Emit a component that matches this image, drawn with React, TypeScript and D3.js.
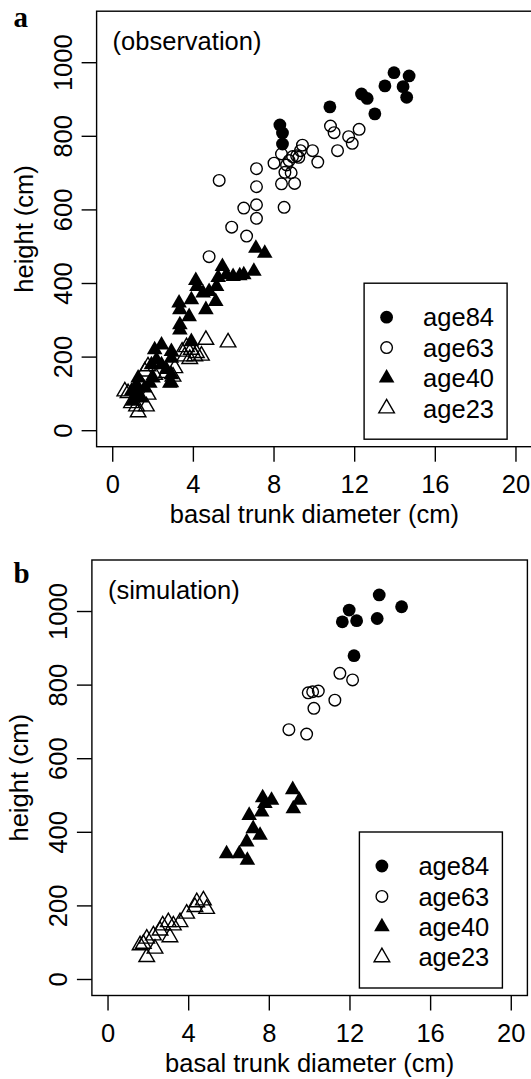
import React from 'react';
import * as d3 from 'd3';

const xTicks = [0, 4, 8, 12, 16, 20];
const yTicks = [0, 200, 400, 600, 800, 1000];
const groupNames = ['age84', 'age63', 'age40', 'age23'];

// (a) observation
const obsAge84X = [13.95, 14.7, 13.5, 14.4, 14.58, 12.34, 12.62, 10.77, 13.0, 8.29, 8.42, 8.42];
const obsAge84Y = [973, 964, 937, 935, 906, 915, 903, 880, 861, 831, 809, 779];
const obsAge63X = [10.8, 10.98, 12.22, 11.7, 11.88, 11.15, 9.41, 9.31, 9.91, 10.17, 9.12, 9.23, 8.92, 8.75, 8.37, 8.0, 8.62, 8.54, 8.85, 8.37, 9.02, 7.13, 7.13, 5.28, 6.5, 7.13, 7.13, 8.5, 5.9, 6.64, 4.78];
const obsAge63Y = [828, 810, 819, 799, 781, 761, 776, 761, 761, 730, 747, 743, 745, 734, 752, 727, 722, 702, 701, 671, 672, 712, 663, 680, 605, 614, 577, 607, 553, 529, 473];
const obsAge40X = [7.1, 7.54, 5.44, 5.64, 5.97, 6.3, 6.5, 7.0, 5.23, 4.12, 4.18, 5.15, 4.48, 4.78, 3.9, 5.11, 4.62, 3.29, 3.79, 3.33, 3.33, 3.33, 3.9, 2.42, 2.08, 2.91, 2.91, 2.17, 1.92, 2.42, 2.66, 2.91, 2.91, 2.0, 1.26, 1.18, 0.93, 1.18, 1.59, 1.42, 1.84, 1.0, 2.83];
const obsAge40Y = [496, 482, 446, 424, 419, 421, 424, 433, 416, 408, 392, 392, 374, 378, 356, 351, 329, 347, 310, 288, 274, 329, 242, 233, 220, 215, 197, 193, 179, 179, 166, 152, 130, 143, 143, 125, 107, 102, 116, 89, 129, 80, 129];
const obsAge23X = [4.62, 5.72, 3.66, 3.9, 4.15, 3.44, 3.57, 4.07, 4.4, 3.82, 3.08, 2.99, 2.66, 1.75, 1.59, 2.08, 0.76, 1.75, 0.93, 1.18, 1.67, 1.26, 1.42, 0.6];
const obsAge23Y = [247, 240, 227, 220, 211, 215, 202, 202, 204, 195, 170, 147, 157, 175, 161, 152, 102, 98, 75, 66, 66, 50, 125, 107];

// (b) simulation
const simAge84X = [13.45, 14.56, 11.96, 11.62, 12.33, 13.35, 12.2];
const simAge84Y = [1045, 1013, 1004, 972, 975, 981, 880];
const simAge63X = [11.5, 12.13, 9.93, 10.43, 10.15, 11.25, 10.21, 8.97, 9.85];
const simAge63Y = [832, 814, 779, 784, 782, 759, 737, 679, 667];
const simAge40X = [9.16, 9.49, 9.19, 7.67, 8.11, 7.78, 7.62, 7.0, 7.2, 7.54, 6.88, 5.88, 6.51, 6.91];
const simAge40Y = [516, 487, 464, 494, 487, 478, 455, 446, 410, 392, 374, 342, 342, 324];
const simAge23X = [4.73, 4.4, 4.89, 4.31, 3.9, 3.57, 2.99, 3.24, 2.71, 3.07, 2.58, 2.25, 1.92, 1.75, 2.33, 1.92, 1.59];
const simAge23Y = [215, 210, 192, 197, 179, 156, 156, 147, 147, 115, 133, 120, 111, 97, 84, 61, 93];

const FONT = '"Liberation Sans", Arial, Helvetica, sans-serif';
const FS = 25.5;
const S = 5.8; // base symbol radius
const SW = 1.4;

function Symbol({ kind, cx, cy }: { kind: string; cx: number; cy: number }) {
  if (kind === 'age84') return <circle cx={cx} cy={cy} r={S + 0.6} fill="#000" />;
  if (kind === 'age63') return <circle cx={cx} cy={cy} r={S} fill="none" stroke="#000" strokeWidth={SW} />;
  const r = 1.5551 * S;
  const xc = 1.3468 * S;
  const yc = 0.7776 * S;
  const d = `M${cx},${cy - r}L${cx + xc},${cy + yc}L${cx - xc},${cy + yc}Z`;
  if (kind === 'age40') return <path d={d} fill="#000" />;
  return <path d={d} fill="none" stroke="#000" strokeWidth={SW} strokeLinejoin="miter" />;
}

type Series = { name: string; xs: number[]; ys: number[] };

function Panel({ left, top, letter, letterY, note, series }: { left: number; top: number; letter: string; letterY: number; note: string; series: Series[] }) {
  const W = 435.5;
  const H = 435.5;
  const x = d3.scaleLinear().domain([-0.8, 20.8]).range([left, left + W]);
  const y = d3.scaleLinear().domain([-43.5, 1140]).range([top + H, top]);
  const bottom = top + H;
  const right = left + W;
  const legW = 143;
  const legH = 156;
  const legR = right - 25;
  const legB = bottom - 7.5;
  const legL = legR - legW;
  const legT = legB - legH;
  const rowStep = 30.4;
  return (
    <g>
      <text x={13.5} y={letterY} fontFamily='"Liberation Serif", "Times New Roman", serif' fontWeight="bold" fontSize={29}>{letter}</text>
      <rect x={left} y={top} width={W} height={H} fill="none" stroke="#000" strokeWidth={1.4} />
      {xTicks.map((t) => (
        <g key={'x' + t}>
          <line x1={x(t)} x2={x(t)} y1={bottom} y2={bottom + 15} stroke="#000" strokeWidth={1.4} />
          <text x={x(t)} y={bottom + 46} textAnchor="middle" fontFamily={FONT} fontSize={FS}>{t}</text>
        </g>
      ))}
      {yTicks.map((t) => (
        <g key={'y' + t}>
          <line x1={left - 15} x2={left} y1={y(t)} y2={y(t)} stroke="#000" strokeWidth={1.4} />
          <text transform={`translate(${left - 25},${y(t)}) rotate(-90)`} textAnchor="middle" fontFamily={FONT} fontSize={FS}>{t}</text>
        </g>
      ))}
      <text x={x(10)} y={bottom + 76} textAnchor="middle" fontFamily={FONT} fontSize={FS}>basal trunk diameter (cm)</text>
      <text transform={`translate(${left - 64},${(top + bottom) / 2}) rotate(-90)`} textAnchor="middle" fontFamily={FONT} fontSize={FS}>height (cm)</text>
      <text x={left + 16} y={top + 38.5} fontFamily={FONT} fontSize={FS}>{note}</text>
      {series.map((s) => (
        <g key={s.name}>
          {s.xs.map((v, i) => (
            <Symbol key={i} kind={s.name} cx={x(v)} cy={y(s.ys[i])} />
          ))}
        </g>
      ))}
      <rect x={legL} y={legT} width={legW} height={legH} fill="#fff" stroke="#000" strokeWidth={1.4} />
      {groupNames.map((g, i) => {
        const cy = legT + 34 + i * rowStep;
        return (
          <g key={g}>
            <Symbol kind={g} cx={legL + 22.5} cy={cy} />
            <text x={legL + 59} y={cy} dy="0.36em" fontFamily={FONT} fontSize={FS}>{g}</text>
          </g>
        );
      })}
    </g>
  );
}

export default function App() {
  const obs: Series[] = [
    { name: 'age84', xs: obsAge84X, ys: obsAge84Y },
    { name: 'age63', xs: obsAge63X, ys: obsAge63Y },
    { name: 'age40', xs: obsAge40X, ys: obsAge40Y },
    { name: 'age23', xs: obsAge23X, ys: obsAge23Y },
  ];
  const sim: Series[] = [
    { name: 'age84', xs: simAge84X, ys: simAge84Y },
    { name: 'age63', xs: simAge63X, ys: simAge63Y },
    { name: 'age40', xs: simAge40X, ys: simAge40Y },
    { name: 'age23', xs: simAge23X, ys: simAge23Y },
  ];
  return (
    <svg width={531} height={1079} style={{ position: 'absolute', left: 0, top: 0, background: '#fff' }}>
      <rect x={0} y={0} width={531} height={1079} fill="#fff" />
      <Panel left={96.6} top={11.2} letter="a" letterY={27} note="(observation)" series={obs} />
      <Panel left={91.9} top={560} letter="b" letterY={583} note="(simulation)" series={sim} />
    </svg>
  );
}
